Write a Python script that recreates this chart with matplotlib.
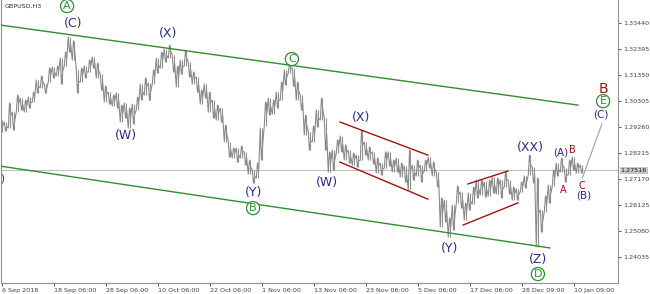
import matplotlib
matplotlib.use("Agg")
import matplotlib.pyplot as plt
import matplotlib.transforms as mtransforms
import numpy as np

# GBPUSD H3, coarse bars (one sample per ~5 bars)
high = [1.2954, 1.2946, 1.3022, 1.2986, 1.3054, 1.3042, 1.3034, 1.3046, 1.3066, 1.3115,
        1.3131, 1.3099, 1.3163, 1.3167, 1.3171, 1.3203, 1.3227, 1.3288, 1.3272, 1.3155,
        1.3163, 1.3171, 1.3195, 1.3207, 1.3183, 1.3139, 1.3091, 1.3066, 1.3054, 1.3063,
        1.3014, 1.3022, 1.3002, 1.3018, 1.3046, 1.3099, 1.3123, 1.3103, 1.3155, 1.3203,
        1.3227, 1.3239, 1.3255, 1.3215, 1.3171, 1.3195, 1.3235, 1.3187, 1.3147, 1.3127,
        1.3075, 1.3099, 1.3066, 1.3034, 1.3014, 1.3002, 1.2934, 1.2866, 1.2842, 1.2842,
        1.2850, 1.2826, 1.2793, 1.2753, 1.2781, 1.2922, 1.3026, 1.3042, 1.3034, 1.3066,
        1.3107, 1.3155, 1.3183, 1.3163, 1.3107, 1.3054, 1.2974, 1.2906, 1.2930, 1.2994,
        1.3042, 1.2962, 1.2826, 1.2833, 1.2874, 1.2890, 1.2854, 1.2833, 1.2821, 1.2813,
        1.2914, 1.2866, 1.2846, 1.2826, 1.2801, 1.2781, 1.2826, 1.2826, 1.2793, 1.2801,
        1.2781, 1.2769, 1.2833, 1.2773, 1.2793, 1.2773, 1.2793, 1.2805, 1.2785, 1.2745,
        1.2641, 1.2632, 1.2560, 1.2612, 1.2689, 1.2665, 1.2620, 1.2661, 1.2685, 1.2713,
        1.2713, 1.2705, 1.2713, 1.2725, 1.2721, 1.2713, 1.2745, 1.2713, 1.2685, 1.2677,
        1.2705, 1.2729, 1.2813, 1.2765, 1.2721, 1.2592, 1.2649, 1.2693, 1.2753, 1.2781,
        1.2801, 1.2761, 1.2793, 1.2805, 1.2781, 1.2773]
low = [1.2906, 1.2910, 1.2922, 1.2914, 1.2986, 1.2994, 1.2986, 1.3002, 1.3026, 1.3063,
       1.3083, 1.3063, 1.3107, 1.3123, 1.3131, 1.3099, 1.3171, 1.3227, 1.3195, 1.3063,
       1.3107, 1.3123, 1.3147, 1.3163, 1.3123, 1.3075, 1.3026, 1.3018, 1.3010, 1.3002,
       1.2946, 1.2962, 1.2922, 1.2938, 1.2994, 1.3034, 1.3054, 1.3034, 1.3099, 1.3143,
       1.3163, 1.3187, 1.3203, 1.3147, 1.3087, 1.3139, 1.3171, 1.3127, 1.3099, 1.3066,
       1.3018, 1.3042, 1.2986, 1.2962, 1.2954, 1.2946, 1.2866, 1.2805, 1.2801, 1.2785,
       1.2801, 1.2773, 1.2737, 1.2701, 1.2721, 1.2793, 1.2930, 1.2974, 1.2978, 1.3002,
       1.3034, 1.3095, 1.3143, 1.3091, 1.3034, 1.2994, 1.2894, 1.2833, 1.2866, 1.2926,
       1.2954, 1.2833, 1.2745, 1.2753, 1.2821, 1.2826, 1.2793, 1.2781, 1.2773, 1.2765,
       1.2793, 1.2813, 1.2793, 1.2777, 1.2741, 1.2733, 1.2761, 1.2769, 1.2745, 1.2745,
       1.2725, 1.2705, 1.2673, 1.2713, 1.2729, 1.2705, 1.2749, 1.2761, 1.2729, 1.2685,
       1.2524, 1.2544, 1.2484, 1.2512, 1.2620, 1.2600, 1.2552, 1.2592, 1.2616, 1.2641,
       1.2653, 1.2645, 1.2649, 1.2661, 1.2657, 1.2641, 1.2685, 1.2657, 1.2632, 1.2632,
       1.2665, 1.2681, 1.2733, 1.2701, 1.2444, 1.2504, 1.2584, 1.2620, 1.2689, 1.2729,
       1.2745, 1.2705, 1.2733, 1.2753, 1.2741, 1.2741]

last_price = 1.27516
price_ticks = [1.24035, 1.25080, 1.26125, 1.27170, 1.28215, 1.29260, 1.30305, 1.31350, 1.32395, 1.33440]
date_labels = ["6 Sep 2018", "18 Sep 06:00", "28 Sep 06:00", "10 Oct 06:00", "22 Oct 06:00",
               "1 Nov 06:00", "13 Nov 06:00", "23 Nov 06:00", "5 Dec 06:00", "17 Dec 06:00",
               "28 Dec 09:00", "10 Jan 09:00"]

# trend lines: (x0, p0, x1, p1) in sample index / price
green_lines = [(-0.4, 1.3336, 144.1, 1.3014), (-0.4, 1.2769, 137.1, 1.2440)]
red_lines = [(84.6, 1.2946, 106.6, 1.2813), (84.6, 1.2785, 106.6, 1.2636),
             (115.4, 1.2532, 129.1, 1.2621), (116.6, 1.2697, 126.6, 1.2749)]
projection = (145.2, 1.2721, 150.1, 1.2938)

# wave labels: (text, x, price, kind)
wave_labels = [
    ("(C)", 17.9, 1.3340, "navy"), ("(W)", 31.1, 1.2890, "navy"), ("(X)", 41.6, 1.3300, "navy"),
    ("(Y)", 62.9, 1.2661, "navy"), ("(W)", 81.4, 1.2701, "navy"), ("(X)", 89.9, 1.2966, "navy"),
    ("(Y)", 112.1, 1.2436, "navy"), ("(XX)", 132.1, 1.2842, "navy"), ("(Z)", 134.1, 1.2395, "navy"),
    ("(A)", 139.9, 1.2822, "navy_s"), ("(B)", 145.6, 1.2649, "navy_s"), ("(C)", 149.9, 1.2978, "navy_s"),
    (")", 0.1, 1.2721, "navy_s"),
    ("B", 142.6, 1.2834, "red_s"), ("A", 140.4, 1.2673, "red_s"), ("C", 145.1, 1.2689, "red_s"),
    ("B", 150.6, 1.3079, "red"),
]
circled = [("A", 16.4, 1.3412), ("C", 72.6, 1.3199), ("B", 62.9, 1.2600),
           ("D", 134.1, 1.2335), ("E", 150.4, 1.3030)]

navy = "#2b2b8c"
red = "#a3120f"
green = "#2f8f2f"
styles = {"navy": (navy, 9), "navy_s": (navy, 7.5), "red": (red, 10), "red_s": (red, 7)}

fig = plt.figure(figsize=(6.5, 2.94), dpi=100)
ax = fig.add_axes([1 / 650, 11 / 294, 617 / 650, 283 / 294])

idx = np.arange(len(high))
hi = np.array(high)
lo = np.array(low)
ax.axhline(last_price, color="#c0c0c0", lw=0.8, zorder=1)

# zigzag through each sample's low and high so the band looks like dense thin bars
zx = np.column_stack([idx - 0.3, idx, idx + 0.3]).ravel()
up = idx % 2 == 0
zy = np.column_stack([np.where(up, lo, hi), np.where(up, hi, lo), (hi + lo) / 2]).ravel()
ax.plot(zx, zy, color="#8a8a8a", lw=0.8, zorder=2)
ax.vlines(idx, lo, hi, color="#909090", lw=0.8, zorder=2)

for x0, p0, x1, p1 in green_lines:
    ax.plot([x0, x1], [p0, p1], color=green, lw=1.0, zorder=3)
for x0, p0, x1, p1 in red_lines:
    ax.plot([x0, x1], [p0, p1], color=red, lw=1.0, zorder=3)
ax.plot(projection[::2], projection[1::2], color="#a0a0a0", lw=0.8, zorder=3)

for txt, x, p, kind in wave_labels:
    c, fs = styles[kind]
    ax.text(x, p, txt, color=c, fontsize=fs, ha="center", va="center", zorder=5)
for txt, x, p in circled:
    ax.text(x, p, txt, color=green, fontsize=8, ha="center", va="center", zorder=5,
            bbox=dict(boxstyle="circle,pad=0.14", fc="white", ec=green, lw=0.9))

ax.set_xlim(-0.125, 154.125)
ax.set_ylim(1.22990, 1.34364)

ax.set_xticks(np.arange(len(date_labels)) * 13)
ax.set_xticklabels(date_labels)
ax.set_yticks(price_ticks)
ax.set_yticklabels([f"{p:.5f}" for p in price_ticks])
ax.yaxis.tick_right()
ax.tick_params(axis="both", labelsize=4.6, colors="#404040", length=2, width=0.6, pad=1.5)
for lbl in ax.get_xticklabels():
    lbl.set_horizontalalignment("left")
for side in ("left", "bottom", "right"):
    ax.spines[side].set_color("#909090")
    ax.spines[side].set_linewidth(0.8)
ax.spines["top"].set_visible(False)

trans = mtransforms.blended_transform_factory(ax.transAxes, ax.transData)
ax.text(1.004, last_price, f"{last_price:.5f}", transform=trans, fontsize=4.6, color="#202020",
        va="center", ha="left", clip_on=False,
        bbox=dict(boxstyle="square,pad=0.15", fc="#c8c8c8", ec="none"))
ax.text(0.006, 0.985, "GBPUSD,H3", transform=ax.transAxes, fontsize=4.6, color="#303030",
        va="top", ha="left")

fig.savefig("out.png", dpi=100)
